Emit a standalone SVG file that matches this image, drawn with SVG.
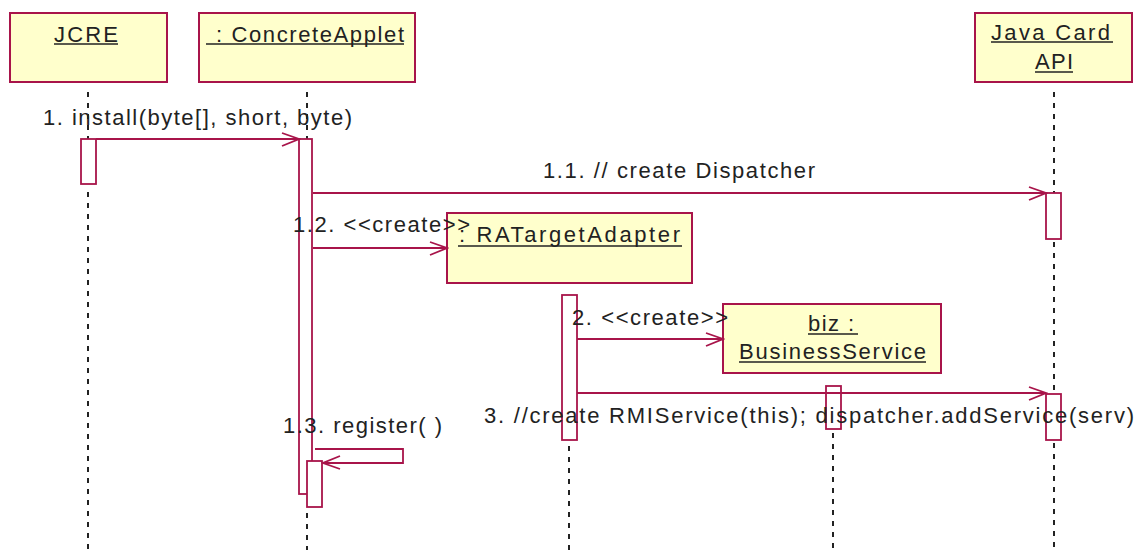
<svg xmlns="http://www.w3.org/2000/svg" width="1138" height="550" viewBox="0 0 1138 550">
  <style>
    .head { fill: #ffffcc; stroke: #a8144a; stroke-width: 2; }
    .act { fill: #ffffff; stroke: #a8144a; stroke-width: 1.8; }
    .life { stroke: #222222; stroke-width: 2; stroke-dasharray: 5 6; fill: none; }
    .ul { stroke: #222222; stroke-width: 1.5; }
    .msg { fill: none; stroke: #a8144a; stroke-width: 1.8; marker-end: url(#open); }
    text { font-family: "Liberation Sans", Arial, sans-serif; font-size: 22px; fill: #222222; }
  </style>
  <defs>
    <marker id="open" markerUnits="userSpaceOnUse" viewBox="-18 -9 20 18" refX="0" refY="0" markerWidth="20" markerHeight="18" orient="auto">
      <path d="M-17,-6 L0,0 L-17,7" fill="none" stroke="#a8144a" stroke-width="1.8"/>
    </marker>
  </defs>
  <rect width="1138" height="550" fill="#ffffff"/>

  <!-- JCRE -->
  <g id="jcre">
    <rect class="head" x="10" y="13" width="157" height="69"/>
    <text x="54" y="42" textLength="64" lengthAdjust="spacing">JCRE</text>
    <line class="ul" x1="54" y1="44" x2="118" y2="44"/>
    <line class="life" x1="88" y1="92" x2="88" y2="139"/>
    <line class="life" x1="88" y1="192" x2="88" y2="550"/>
    <rect class="act" x="81" y="139" width="15" height="45"/>
  </g>

  <!-- : ConcreteApplet -->
  <g id="concrete-applet">
    <rect class="head" x="199" y="13" width="216" height="69"/>
    <text x="216" y="42" textLength="188" lengthAdjust="spacing">: ConcreteApplet</text>
    <line class="ul" x1="206" y1="44" x2="404" y2="44"/>
    <line class="life" x1="307" y1="92" x2="307" y2="139"/>
    <line class="life" x1="307" y1="513" x2="307" y2="550"/>
    <rect class="act" x="299" y="139" width="13" height="355"/>
    <rect class="act" x="307" y="461" width="15" height="46"/>
  </g>

  <!-- Java Card API -->
  <g id="java-card-api">
    <rect class="head" x="975" y="13" width="157" height="69"/>
    <text x="991" y="40" textLength="119" lengthAdjust="spacing">Java Card</text>
    <line class="ul" x1="991" y1="42" x2="1113" y2="42"/>
    <text x="1035" y="69" textLength="38" lengthAdjust="spacing">API</text>
    <line class="ul" x1="1035" y1="72" x2="1073" y2="72"/>
    <line class="life" x1="1054" y1="92" x2="1054" y2="193"/>
    <line class="life" x1="1054" y1="242" x2="1054" y2="394"/>
    <line class="life" x1="1054" y1="443" x2="1054" y2="550"/>
    <rect class="act" x="1046" y="193" width="15" height="46"/>
    <rect class="act" x="1046" y="394" width="15" height="46"/>
  </g>

  <!-- : RATargetAdapter -->
  <g id="ra-target-adapter">
    <rect class="head" x="447" y="213" width="245" height="70"/>
    <text x="459" y="242" textLength="221" lengthAdjust="spacing">: RATargetAdapter</text>
    <line class="ul" x1="458" y1="246" x2="682" y2="246"/>
    <line class="life" x1="569" y1="446" x2="569" y2="550"/>
    <rect class="act" x="562" y="295" width="15" height="145"/>
  </g>

  <!-- biz : BusinessService -->
  <g id="business-service">
    <rect class="head" x="723" y="304" width="218" height="69"/>
    <text x="808" y="331" textLength="46" lengthAdjust="spacing">biz :</text>
    <line class="ul" x1="808" y1="334" x2="858" y2="334"/>
    <text x="739" y="359" textLength="187" lengthAdjust="spacing">BusinessService</text>
    <line class="ul" x1="739" y1="362" x2="926" y2="362"/>
    <line class="life" x1="833" y1="433" x2="833" y2="550"/>
    <rect class="act" x="826" y="386" width="15" height="43"/>
  </g>

  <!-- messages -->
  <g id="connectors">
    <path class="msg" d="M96,139 H299"/>
    <text x="43" y="125" textLength="309" lengthAdjust="spacing">1. install(byte[], short, byte)</text>

    <path class="msg" d="M313,193 H1046"/>
    <text x="543" y="178" textLength="272" lengthAdjust="spacing">1.1. // create Dispatcher</text>

    <path class="msg" d="M313,248 H447"/>
    <text x="293" y="232" textLength="177" lengthAdjust="spacing">1.2. &lt;&lt;create&gt;&gt;</text>

    <path class="msg" d="M577,339 H723"/>
    <text x="572" y="325" textLength="156" lengthAdjust="spacing">2. &lt;&lt;create&gt;&gt;</text>

    <path class="msg" d="M577,393 H1046"/>
    <text x="484" y="423" textLength="650" lengthAdjust="spacing">3. //create RMIService(this); dispatcher.addService(serv)</text>

    <path class="msg" d="M315,449 H403 V463 H323"/>
    <text x="283" y="433" textLength="159" lengthAdjust="spacing">1.3. register( )</text>
  </g>
</svg>
